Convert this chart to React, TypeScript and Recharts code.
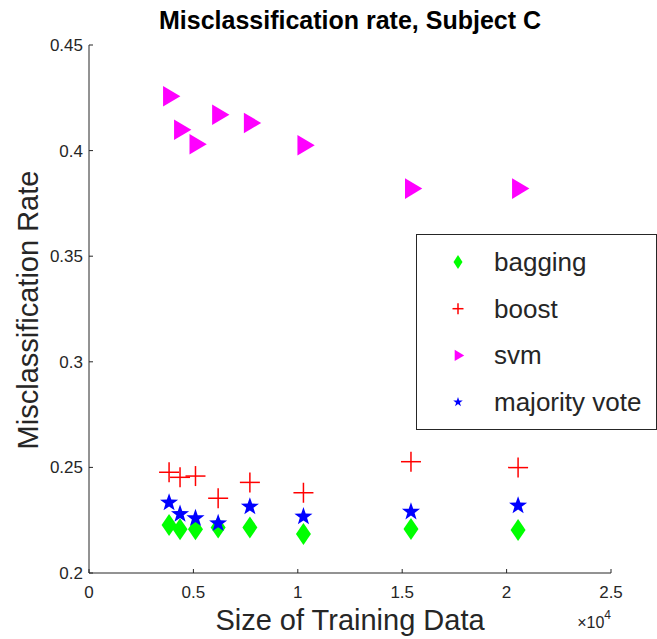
import React from 'react';
import { ScatterChart, Scatter, XAxis, YAxis, Legend } from 'recharts';

// training set sizes (x) and misclassification rates per method
const sizes = [3835, 4360, 5100, 6185, 7705, 10270, 15420, 20550];
const bagging = [0.2227, 0.2207, 0.2207, 0.2216, 0.2216, 0.2185, 0.2208, 0.2204];
const boost = [0.2477, 0.2453, 0.2459, 0.2354, 0.2429, 0.238, 0.2527, 0.2499];
const svm = [0.4257, 0.4099, 0.403, 0.417, 0.4131, 0.4025, 0.382, 0.382];
const majorityVote = [0.2333, 0.2279, 0.2259, 0.2235, 0.2314, 0.2267, 0.229, 0.2319];

const xTicks = [0, 5000, 10000, 15000, 20000, 25000];
const yTicks = [0.2, 0.25, 0.3, 0.35, 0.4, 0.45];

const toPoints = (ys: number[]) => sizes.map((x, i) => ({ x, y: ys[i] }));

const AXIS = '#262626';
const FONT = '"Liberation Sans", Arial, Helvetica, sans-serif';

const Diamond = ({ cx, cy, w = 7.5, h = 11 }: any) => (
  <path d={`M${cx},${cy - h}L${cx + w},${cy}L${cx},${cy + h}L${cx - w},${cy}Z`} fill="#00ff00" />
);

const Plus = ({ cx, cy, r = 10 }: any) => (
  <g stroke="#ff0000" strokeWidth={1.5}>
    <line x1={cx - r} y1={cy} x2={cx + r} y2={cy} />
    <line x1={cx} y1={cy - r} x2={cx} y2={cy + r} />
  </g>
);

const TriRight = ({ cx, cy, s = 1 }: any) => (
  <path
    d={`M${cx - 6 * s},${cy - 10.3 * s}L${cx + 11.3 * s},${cy}L${cx - 6 * s},${cy + 10.3 * s}Z`}
    fill="#ff00ff"
  />
);

const Star = ({ cx, cy, r = 9.5 }: any) => {
  const pts: string[] = [];
  for (let i = 0; i < 10; i++) {
    const rad = i % 2 === 0 ? r : r * 0.4;
    const a = -Math.PI / 2 + (i * Math.PI) / 5;
    pts.push(`${cx + rad * Math.cos(a)},${cy + rad * Math.sin(a)}`);
  }
  return <polygon points={pts.join(' ')} fill="#0000ff" />;
};

const XTick = ({ x, y, payload }: any) => (
  <g>
    <line x1={x} y1={y} x2={x} y2={y - 4} stroke={AXIS} />
    <text x={x} y={y + 25} textAnchor="middle" fill={AXIS} fontSize={17} fontFamily={FONT}>
      {payload.value / 10000}
    </text>
  </g>
);

const YTick = ({ x, y, payload }: any) => (
  <g>
    <line x1={x} y1={y} x2={x + 4} y2={y} stroke={AXIS} />
    <text x={x - 6} y={y + 6} textAnchor="end" fill={AXIS} fontSize={17} fontFamily={FONT}>
      {payload.value}
    </text>
  </g>
);

const legendItems = [
  { name: 'bagging', icon: (cx: number, cy: number) => <Diamond cx={cx} cy={cy} w={4.5} h={7} /> },
  { name: 'boost', icon: (cx: number, cy: number) => <Plus cx={cx} cy={cy} r={5.5} /> },
  { name: 'svm', icon: (cx: number, cy: number) => <TriRight cx={cx} cy={cy} s={0.55} /> },
  { name: 'majority vote', icon: (cx: number, cy: number) => <Star cx={cx} cy={cy} r={5} /> },
];

const LegendBox = () => (
  <svg width={241} height={196} style={{ display: 'block' }}>
    <rect x={0.5} y={0.5} width={240} height={195} fill="#fff" stroke={AXIS} />
    {legendItems.map((item, i) => {
      const cy = 28 + i * 46.7;
      return (
        <g key={item.name}>
          {item.icon(42, cy)}
          <text x={78} y={cy + 9} fontSize={26} fill={AXIS} fontFamily={FONT}>
            {item.name}
          </text>
        </g>
      );
    })}
  </svg>
);

export default function App() {
  return (
    <div style={{ position: 'absolute', left: 0, top: 0, width: 657, height: 639, background: '#fff' }}>
      <ScatterChart width={657} height={639} margin={{ top: 45, right: 46, bottom: 36, left: 29 }}>
        <XAxis
          type="number"
          dataKey="x"
          domain={[0, 25000]}
          ticks={xTicks}
          tickSize={0}
          tickMargin={0}
          tickLine={false}
          height={30}
          stroke={AXIS}
          tick={<XTick />}
          label={{
            content: () => (
              <text x={350} y={630} textAnchor="middle" fontSize={29} fill={AXIS} fontFamily={FONT}>
                Size of Training Data
              </text>
            ),
          }}
        />
        <YAxis
          type="number"
          dataKey="y"
          domain={[0.2, 0.45]}
          ticks={yTicks}
          tickSize={0}
          tickMargin={0}
          tickLine={false}
          width={60}
          stroke={AXIS}
          tick={<YTick />}
          label={{
            content: () => (
              <text
                x={38}
                y={310}
                textAnchor="middle"
                fontSize={29}
                fill={AXIS}
                fontFamily={FONT}
                transform="rotate(-90 38 310)"
              >
                Misclassification Rate
              </text>
            ),
          }}
        />
        <Legend
          layout="vertical"
          align="center"
          verticalAlign="middle"
          wrapperStyle={{ left: 416, top: 234, width: 241, height: 196 }}
          content={() => <LegendBox />}
        />
        <Scatter name="bagging" data={toPoints(bagging)} shape={<Diamond />} isAnimationActive={false} />
        <Scatter name="boost" data={toPoints(boost)} shape={<Plus />} isAnimationActive={false} />
        <Scatter name="svm" data={toPoints(svm)} shape={<TriRight />} isAnimationActive={false} />
        <Scatter name="majority vote" data={toPoints(majorityVote)} shape={<Star />} isAnimationActive={false} />
      </ScatterChart>
      <svg
        width={657}
        height={639}
        style={{ position: 'absolute', left: 0, top: 0, pointerEvents: 'none' }}
      >
        <text x={350} y={29} textAnchor="middle" fontSize={25} fontWeight="bold" fill="#000" fontFamily={FONT}>
          Misclassification rate, Subject C
        </text>
        <text x={611} y={628} textAnchor="end" fontSize={16} fill={AXIS} fontFamily={FONT}>
          ×10
          <tspan dy={-9} fontSize={12}>
            4
          </tspan>
        </text>
      </svg>
    </div>
  );
}
